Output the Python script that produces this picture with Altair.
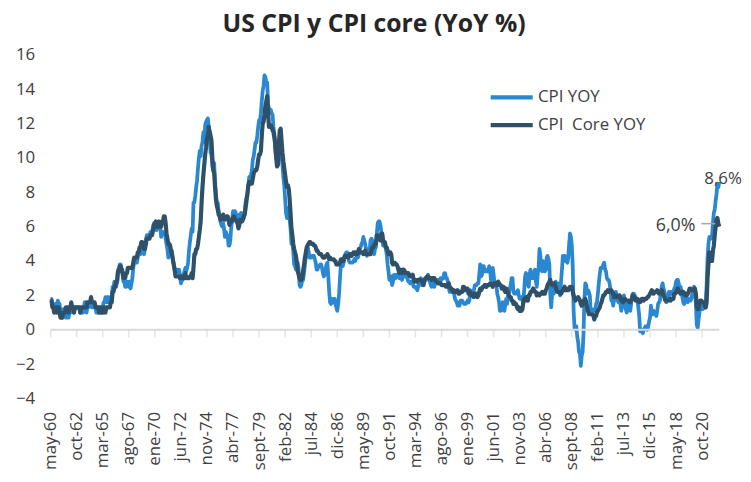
import altair as alt
import pandas as pd

# CPI YoY (%) monthly, May-1960 .. May-2022
cpi_yoy = [
    1.8, 1.8, 1.4, 1.4, 1.2, 1.5, 1.5, 1.4,                      # 1960 (May-Dec)
    1.7, 1.5, 1.5, 0.9, 0.9, 0.7, 1.2, 0.9, 1.2, 0.7, 0.7, 0.7,  # 1961
    0.7, 1.0, 1.0, 1.3, 1.3, 1.3, 1.0, 1.3, 1.3, 1.3, 1.3, 1.3,  # 1962
    1.3, 1.0, 1.0, 1.0, 1.0, 1.3, 1.6, 1.6, 1.0, 1.3, 1.3, 1.6,  # 1963
    1.6, 1.6, 1.3, 1.3, 1.3, 1.3, 1.3, 1.0, 1.3, 1.0, 1.3, 1.0,  # 1964
    1.0, 1.0, 1.3, 1.6, 1.6, 1.9, 1.6, 1.9, 1.6, 1.9, 1.6, 1.9,  # 1965
    1.9, 2.5, 2.5, 2.8, 2.8, 2.5, 2.8, 3.5, 3.5, 3.8, 3.8, 3.5,  # 1966
    3.5, 2.8, 2.8, 2.5, 2.5, 2.8, 2.8, 2.5, 2.8, 2.4, 2.7, 3.0,  # 1967
    3.6, 4.0, 4.0, 3.9, 3.9, 4.2, 4.5, 4.4, 4.4, 4.7, 4.8, 4.7,  # 1968
    4.4, 4.7, 5.2, 5.5, 5.5, 5.5, 5.4, 5.7, 5.7, 5.7, 6.0, 6.2,  # 1969
    6.2, 6.1, 5.8, 6.1, 6.1, 6.0, 6.0, 5.4, 5.7, 5.7, 5.6, 5.6,  # 1970
    5.3, 5.0, 4.7, 4.2, 4.4, 4.6, 4.4, 4.6, 4.1, 3.8, 3.5, 3.3,  # 1971
    3.3, 3.5, 3.5, 3.5, 3.2, 2.7, 2.9, 2.9, 3.2, 3.4, 3.6, 3.4,  # 1972
    3.6, 3.9, 4.6, 5.1, 5.5, 5.9, 5.7, 7.4, 7.4, 7.8, 8.3, 8.7,  # 1973
    9.4, 10.0, 10.4, 10.1, 10.7, 10.9, 11.5, 10.9, 11.9, 12.1, 12.2, 12.3,  # 1974
    11.8, 11.2, 10.3, 10.2, 9.5, 9.3, 9.7, 8.6, 7.9, 7.4, 7.4, 6.9,  # 1975
    6.7, 6.3, 6.1, 6.0, 6.2, 5.9, 5.4, 5.7, 5.5, 5.5, 4.9, 4.9,  # 1976
    5.2, 6.0, 6.4, 6.9, 6.7, 6.9, 6.8, 6.6, 6.6, 6.4, 6.7, 6.7,  # 1977
    6.8, 6.4, 6.6, 6.5, 6.9, 7.4, 7.7, 7.9, 8.3, 8.9, 8.9, 9.0,  # 1978
    9.3, 9.9, 10.1, 10.5, 10.9, 10.9, 11.3, 11.8, 12.2, 12.1, 12.6, 13.3,  # 1979
    13.9, 14.2, 14.8, 14.7, 14.4, 14.4, 13.1, 12.9, 12.6, 12.8, 12.6, 12.5,  # 1980
    11.8, 11.4, 10.5, 10.0, 9.8, 9.6, 10.8, 10.8, 11.0, 10.1, 9.6, 8.9,  # 1981
    8.4, 7.6, 6.8, 6.5, 6.7, 7.1, 6.4, 5.9, 5.0, 5.1, 4.6, 3.8,  # 1982
    3.7, 3.5, 3.6, 3.9, 3.5, 2.6, 2.5, 2.6, 2.9, 2.9, 3.3, 3.8,  # 1983
    4.2, 4.6, 4.8, 4.6, 4.2, 4.2, 4.2, 4.3, 4.3, 4.3, 4.1, 3.9,  # 1984
    3.5, 3.5, 3.7, 3.7, 3.8, 3.8, 3.6, 3.3, 3.1, 3.2, 3.5, 3.8,  # 1985
    3.9, 3.1, 2.2, 1.6, 1.5, 1.8, 1.6, 1.6, 1.8, 1.5, 1.3, 1.1,  # 1986
    1.5, 2.1, 3.0, 3.8, 3.9, 3.7, 3.9, 4.3, 4.4, 4.5, 4.5, 4.4,  # 1987
    4.0, 3.9, 3.9, 3.9, 3.9, 4.0, 4.1, 4.0, 4.2, 4.2, 4.2, 4.4,  # 1988
    4.7, 4.8, 5.0, 5.1, 5.4, 5.2, 5.0, 4.7, 4.3, 4.5, 4.7, 4.6,  # 1989
    5.2, 5.3, 5.2, 4.7, 4.4, 4.7, 4.8, 5.6, 6.2, 6.3, 6.3, 6.1,  # 1990
    5.7, 5.3, 4.9, 4.9, 5.0, 4.7, 4.4, 3.8, 3.4, 2.9, 3.0, 3.1,  # 1991
    2.6, 2.8, 3.2, 3.2, 3.0, 3.1, 3.2, 3.1, 3.0, 3.2, 3.0, 2.9,  # 1992
    3.3, 3.2, 3.1, 3.2, 3.2, 3.0, 2.8, 2.8, 2.7, 2.8, 2.7, 2.7,  # 1993
    2.5, 2.5, 2.5, 2.4, 2.3, 2.5, 2.8, 2.9, 3.0, 2.6, 2.7, 2.7,  # 1994
    2.8, 2.9, 2.9, 3.1, 3.2, 3.0, 2.8, 2.6, 2.5, 2.8, 2.6, 2.5,  # 1995
    2.7, 2.7, 2.8, 2.9, 2.9, 2.8, 3.0, 2.9, 3.0, 3.0, 3.3, 3.3,  # 1996
    3.0, 3.0, 2.8, 2.5, 2.2, 2.3, 2.2, 2.2, 2.2, 2.1, 1.8, 1.7,  # 1997
    1.6, 1.4, 1.4, 1.4, 1.7, 1.7, 1.7, 1.6, 1.5, 1.5, 1.5, 1.6,  # 1998
    1.7, 1.6, 1.7, 2.3, 2.1, 2.0, 2.1, 2.3, 2.6, 2.6, 2.6, 2.7,  # 1999
    2.7, 3.2, 3.8, 3.1, 3.2, 3.7, 3.7, 3.4, 3.5, 3.4, 3.4, 3.4,  # 2000
    3.7, 3.5, 2.9, 3.3, 3.6, 3.2, 2.7, 2.7, 2.6, 2.1, 1.9, 1.6,  # 2001
    1.1, 1.1, 1.5, 1.6, 1.2, 1.1, 1.5, 1.8, 1.5, 2.0, 2.2, 2.4,  # 2002
    2.6, 3.0, 3.0, 2.2, 2.1, 2.1, 2.1, 2.2, 2.3, 2.0, 1.8, 1.9,  # 2003
    1.9, 1.7, 1.7, 2.3, 3.1, 3.3, 3.0, 2.7, 2.5, 3.2, 3.5, 3.3,  # 2004
    3.0, 3.0, 3.1, 3.5, 2.8, 2.5, 3.2, 3.6, 4.7, 4.3, 3.5, 3.4,  # 2005
    4.0, 3.6, 3.4, 3.5, 4.2, 4.3, 4.1, 3.8, 2.1, 1.3, 2.0, 2.5,  # 2006
    2.1, 2.4, 2.8, 2.6, 2.7, 2.7, 2.4, 2.0, 2.8, 3.5, 4.3, 4.1,  # 2007
    4.3, 4.0, 4.0, 3.9, 4.2, 5.0, 5.6, 5.4, 4.9, 3.7, 1.1, 0.1,  # 2008
    0.0, 0.2, -0.4, -0.7, -1.3, -1.4, -2.1, -1.5, -1.3, -0.2, 1.8, 2.7,  # 2009
    2.6, 2.1, 2.3, 2.2, 2.0, 1.1, 1.2, 1.1, 1.1, 1.2, 1.1, 1.5,  # 2010
    1.6, 2.1, 2.7, 3.2, 3.6, 3.6, 3.6, 3.8, 3.9, 3.5, 3.4, 3.0,  # 2011
    2.9, 2.9, 2.7, 2.3, 1.7, 1.7, 1.4, 1.7, 2.0, 2.2, 1.8, 1.7,  # 2012
    1.6, 2.0, 1.5, 1.1, 1.4, 1.8, 2.0, 1.5, 1.2, 1.0, 1.2, 1.5,  # 2013
    1.6, 1.1, 1.5, 2.0, 2.1, 2.1, 2.0, 1.7, 1.7, 1.7, 1.3, 0.8,  # 2014
    -0.1, 0.0, -0.1, -0.2, 0.0, 0.1, 0.2, 0.2, 0.0, 0.2, 0.5, 0.7,  # 2015
    1.4, 1.0, 0.9, 1.1, 1.0, 1.0, 0.8, 1.1, 1.5, 1.6, 1.7, 2.1,  # 2016
    2.5, 2.7, 2.4, 2.2, 1.9, 1.6, 1.7, 1.9, 2.2, 2.0, 2.2, 2.1,  # 2017
    2.1, 2.2, 2.4, 2.5, 2.8, 2.9, 2.9, 2.7, 2.3, 2.5, 2.2, 1.9,  # 2018
    1.6, 1.5, 1.9, 2.0, 1.8, 1.6, 1.8, 1.7, 1.7, 1.8, 2.1, 2.3,  # 2019
    2.5, 2.3, 1.5, 0.3, 0.1, 0.6, 1.0, 1.3, 1.4, 1.2, 1.2, 1.4,  # 2020
    1.4, 1.7, 2.6, 4.2, 5.0, 5.4, 5.4, 5.3, 5.4, 6.2, 6.8, 7.0,  # 2021
    7.5, 7.9, 8.5, 8.3, 8.6,                                      # 2022 (Jan-May)
]

# CPI core YoY (%) monthly, May-1960 .. May-2022
core_yoy = [
    1.7, 1.7, 1.3, 1.3, 1.0, 1.3, 1.3, 1.0,                      # 1960 (May-Dec)
    1.3, 1.3, 1.0, 0.7, 0.7, 0.7, 1.0, 1.0, 1.0, 1.3, 1.3, 1.3,  # 1961
    1.0, 1.3, 1.3, 1.6, 1.3, 1.3, 1.0, 1.3, 1.3, 1.3, 1.3, 1.3,  # 1962
    1.3, 1.0, 1.3, 1.3, 1.3, 1.3, 1.3, 1.3, 1.3, 1.6, 1.6, 1.6,  # 1963
    1.6, 1.9, 1.6, 1.6, 1.6, 1.6, 1.3, 1.3, 1.3, 1.3, 1.0, 1.3,  # 1964
    1.3, 1.0, 1.0, 1.3, 1.3, 1.0, 1.3, 1.3, 1.3, 1.3, 1.3, 1.6,  # 1965
    1.6, 2.2, 2.2, 2.5, 2.5, 2.8, 2.8, 3.4, 3.4, 3.7, 3.7, 3.5,  # 1966
    3.3, 3.0, 3.0, 3.0, 3.3, 3.3, 3.6, 3.6, 3.6, 3.6, 3.6, 3.6,  # 1967
    3.9, 4.2, 4.2, 4.2, 4.2, 4.5, 4.5, 4.8, 4.8, 5.1, 5.1, 5.0,  # 1968
    4.7, 4.7, 5.0, 5.3, 5.3, 5.3, 5.3, 5.5, 5.5, 5.5, 5.8, 6.1,  # 1969
    6.1, 6.3, 6.0, 6.0, 6.3, 6.3, 6.0, 6.0, 6.3, 6.3, 6.6, 6.6,  # 1970
    6.2, 5.6, 5.3, 5.0, 5.0, 4.9, 4.6, 4.4, 4.1, 3.8, 3.5, 3.1,  # 1971
    3.1, 3.1, 3.1, 3.1, 3.0, 3.1, 3.1, 3.0, 3.0, 3.0, 3.3, 3.0,  # 1972
    3.0, 3.0, 3.0, 3.1, 3.1, 3.3, 3.0, 3.6, 4.4, 4.4, 4.7, 4.7,  # 1973
    5.0, 5.4, 5.8, 6.3, 7.4, 8.3, 9.0, 9.6, 10.2, 10.6, 11.1, 11.3,  # 1974
    11.8, 11.5, 11.3, 11.0, 10.0, 9.3, 9.1, 8.3, 7.6, 7.2, 7.0, 6.7,  # 1975
    6.6, 6.4, 6.6, 6.5, 6.7, 6.4, 6.4, 6.5, 6.6, 6.6, 6.4, 6.1,  # 1976
    6.3, 6.4, 6.3, 6.5, 6.6, 6.4, 6.4, 6.3, 6.2, 5.9, 6.1, 6.4,  # 1977
    6.4, 6.3, 6.4, 6.6, 6.7, 7.1, 7.5, 7.9, 8.4, 8.6, 8.5, 8.5,  # 1978
    8.5, 8.8, 9.1, 9.2, 9.3, 9.3, 9.5, 9.9, 10.2, 10.2, 10.4, 11.3,  # 1979
    12.0, 12.1, 12.5, 13.0, 13.3, 13.6, 12.6, 11.8, 11.8, 11.9, 11.8, 11.6,  # 1980
    11.5, 11.2, 10.8, 10.0, 9.5, 9.6, 10.8, 11.6, 11.7, 11.0, 10.3, 9.8,  # 1981
    9.4, 9.0, 8.6, 8.3, 8.4, 8.2, 7.6, 6.8, 5.9, 5.5, 5.0, 4.7,  # 1982
    4.5, 4.3, 3.9, 3.4, 3.2, 3.0, 2.9, 2.9, 3.0, 3.4, 3.8, 4.2,  # 1983
    4.5, 4.8, 4.9, 5.0, 5.1, 5.1, 5.0, 5.0, 5.0, 4.9, 4.9, 4.8,  # 1984
    4.6, 4.6, 4.5, 4.4, 4.4, 4.4, 4.3, 4.2, 4.2, 4.2, 4.3, 4.3,  # 1985
    4.4, 4.3, 4.1, 4.2, 4.1, 4.1, 4.1, 4.1, 4.0, 4.0, 3.8, 3.8,  # 1986
    3.8, 3.8, 3.9, 4.1, 4.0, 4.1, 4.0, 4.2, 4.3, 4.3, 4.3, 4.2,  # 1987
    4.3, 4.4, 4.4, 4.3, 4.4, 4.5, 4.5, 4.4, 4.5, 4.4, 4.5, 4.7,  # 1988
    4.5, 4.5, 4.5, 4.5, 4.4, 4.5, 4.6, 4.4, 4.4, 4.4, 4.4, 4.4,  # 1989
    4.4, 4.6, 4.8, 4.8, 4.9, 5.0, 5.0, 5.5, 5.5, 5.3, 5.3, 5.2,  # 1990
    5.6, 5.6, 5.2, 5.1, 5.1, 4.8, 4.8, 4.6, 4.4, 4.4, 4.5, 4.4,  # 1991
    3.9, 3.8, 3.9, 3.9, 3.8, 3.8, 3.7, 3.5, 3.3, 3.5, 3.4, 3.3,  # 1992
    3.5, 3.5, 3.4, 3.3, 3.3, 3.3, 3.3, 3.2, 3.1, 3.1, 3.1, 3.2,  # 1993
    2.9, 2.8, 2.9, 2.8, 2.8, 2.9, 2.9, 2.9, 2.9, 2.8, 2.8, 2.6,  # 1994
    2.9, 3.0, 3.0, 3.1, 3.1, 3.0, 3.0, 3.0, 2.9, 3.0, 3.0, 3.0,  # 1995
    2.9, 2.8, 2.8, 2.7, 2.7, 2.7, 2.7, 2.6, 2.6, 2.6, 2.6, 2.6,  # 1996
    2.5, 2.5, 2.5, 2.7, 2.5, 2.4, 2.4, 2.3, 2.2, 2.3, 2.2, 2.2,  # 1997
    2.2, 2.3, 2.1, 2.1, 2.2, 2.2, 2.2, 2.5, 2.5, 2.3, 2.3, 2.4,  # 1998
    2.4, 2.1, 2.1, 2.2, 2.0, 2.1, 2.1, 1.9, 2.0, 2.1, 2.1, 1.9,  # 1999
    2.0, 2.2, 2.4, 2.3, 2.4, 2.5, 2.5, 2.6, 2.6, 2.5, 2.6, 2.6,  # 2000
    2.6, 2.7, 2.7, 2.6, 2.5, 2.7, 2.7, 2.7, 2.6, 2.6, 2.8, 2.7,  # 2001
    2.6, 2.6, 2.4, 2.5, 2.5, 2.3, 2.2, 2.4, 2.2, 2.2, 2.0, 1.9,  # 2002
    1.9, 1.7, 1.7, 1.5, 1.6, 1.5, 1.5, 1.3, 1.2, 1.3, 1.1, 1.1,  # 2003
    1.1, 1.2, 1.6, 1.8, 1.7, 1.9, 1.8, 1.7, 2.0, 2.0, 2.2, 2.2,  # 2004
    2.3, 2.4, 2.3, 2.2, 2.2, 2.0, 2.1, 2.1, 2.0, 2.1, 2.1, 2.2,  # 2005
    2.1, 2.1, 2.1, 2.3, 2.4, 2.6, 2.7, 2.8, 2.9, 2.7, 2.6, 2.6,  # 2006
    2.7, 2.7, 2.5, 2.3, 2.2, 2.2, 2.2, 2.1, 2.1, 2.2, 2.3, 2.4,  # 2007
    2.5, 2.3, 2.4, 2.3, 2.3, 2.4, 2.5, 2.5, 2.5, 2.2, 2.0, 1.8,  # 2008
    1.7, 1.8, 1.8, 1.9, 1.8, 1.7, 1.5, 1.4, 1.5, 1.7, 1.7, 1.8,  # 2009
    1.6, 1.3, 1.1, 0.9, 0.9, 0.9, 0.9, 0.9, 0.8, 0.6, 0.8, 0.8,  # 2010
    1.0, 1.1, 1.2, 1.3, 1.5, 1.6, 1.8, 2.0, 2.0, 2.1, 2.2, 2.2,  # 2011
    2.3, 2.2, 2.3, 2.3, 2.3, 2.2, 2.1, 1.9, 2.0, 2.0, 1.9, 1.9,  # 2012
    1.9, 2.0, 1.9, 1.7, 1.7, 1.6, 1.7, 1.8, 1.7, 1.7, 1.7, 1.7,  # 2013
    1.6, 1.6, 1.7, 1.8, 2.0, 1.9, 1.9, 1.7, 1.7, 1.8, 1.7, 1.6,  # 2014
    1.6, 1.7, 1.8, 1.8, 1.7, 1.8, 1.8, 1.8, 1.9, 1.9, 2.0, 2.1,  # 2015
    2.2, 2.3, 2.2, 2.1, 2.2, 2.2, 2.2, 2.3, 2.2, 2.1, 2.1, 2.2,  # 2016
    2.3, 2.2, 2.0, 1.9, 1.7, 1.7, 1.7, 1.7, 1.7, 1.8, 1.7, 1.8,  # 2017
    1.8, 1.8, 2.1, 2.1, 2.2, 2.3, 2.4, 2.2, 2.2, 2.1, 2.2, 2.2,  # 2018
    2.2, 2.1, 2.0, 2.1, 2.0, 2.1, 2.2, 2.4, 2.4, 2.3, 2.3, 2.3,  # 2019
    2.3, 2.4, 2.1, 1.4, 1.2, 1.2, 1.6, 1.7, 1.7, 1.6, 1.6, 1.6,  # 2020
    1.4, 1.3, 1.6, 3.0, 3.8, 4.5, 4.3, 4.0, 4.0, 4.6, 4.9, 5.5,  # 2021
    6.0, 6.4, 6.5, 6.2, 6.0,                                      # 2022 (Jan-May)
]

tick_labels = ["may-60", "oct-62", "mar-65", "ago-67", "ene-70", "jun-72", "nov-74",
               "abr-77", "sept-79", "feb-82", "jul-84", "dic-86", "may-89", "oct-91",
               "mar-94", "ago-96", "ene-99", "jun-01", "nov-03", "abr-06", "sept-08",
               "feb-11", "jul-13", "dic-15", "may-18", "oct-20"]
tick_step = 29  # months between labelled categories
y_ticks = [-4, -2, 0, 2, 4, 6, 8, 10, 12, 14, 16]

series_names = ["CPI YOY", "CPI\u00a0 Core YOY"]
series_colors = ["#2A88D2", "#2E5169"]
end_labels = ["8,6%", "6,0%"]

n = len(cpi_yoy)
df = pd.DataFrame({
    "t": list(range(n)) * 2,
    "serie": [series_names[0]] * n + [series_names[1]] * len(core_yoy),
    "valor": cpi_yoy + core_yoy,
})
tick_pos = [i * tick_step for i in range(len(tick_labels))]
ticks_df = pd.DataFrame({"t": tick_pos, "valor": 0})
zero_df = pd.DataFrame({"valor": [0]})
end_df = pd.DataFrame({"t": [n - 1, n - 1], "valor": [cpi_yoy[-1], core_yoy[-1]],
                       "lab": end_labels})

label_array = "[" + ",".join(f"'{l}'" for l in tick_labels) + "]"

FONT = "Open Sans"
TXT = "#404040"

x_scale = alt.Scale(domain=[0, n - 1], nice=False, zero=False)
y_scale = alt.Scale(domain=[-4, 16], nice=False)

x_axis = alt.Axis(values=tick_pos,
                  labelExpr=label_array + "[round(datum.value/" + str(tick_step) + ")]",
                  labelAngle=-90, labelFontSize=17, labelColor=TXT, labelFont=FONT,
                  labelPadding=13, ticks=False, domain=False, grid=False,
                  labelOverlap=False, labelBound=False, labelFlush=False)
y_axis = alt.Axis(values=y_ticks, labelFontSize=17, labelColor=TXT,
                  labelFont=FONT, labelPadding=16, ticks=False, domain=False,
                  grid=False, labelOverlap=False)

x_enc = alt.X("t:Q", scale=x_scale, title=None, axis=x_axis)
y_enc = alt.Y("valor:Q", scale=y_scale, title=None, axis=y_axis)

color_enc = alt.Color("serie:N",
                      scale=alt.Scale(domain=series_names, range=series_colors),
                      legend=alt.Legend(title=None, orient="none", legendX=442, legendY=34,
                                        symbolType="stroke", symbolSize=1800,
                                        symbolStrokeWidth=4.5, labelFontSize=17,
                                        labelColor=TXT, labelFont=FONT, labelOffset=3,
                                        clipHeight=18, rowPadding=10))

zero_line = alt.Chart(zero_df).mark_rule(color="#D9D9D9", strokeWidth=2).encode(y=y_enc)
tick_marks = alt.Chart(ticks_df).mark_tick(color="#D9D9D9", orient="vertical", size=7,
                                           thickness=1.5, yOffset=4).encode(x=x_enc, y=y_enc)

base = alt.Chart(df)
line_cpi = base.transform_filter(alt.datum.serie == series_names[0]).mark_line(
    strokeWidth=3.8, strokeJoin="round").encode(x=x_enc, y=y_enc, color=color_enc)
line_core = base.transform_filter(alt.datum.serie == series_names[1]).mark_line(
    strokeWidth=4.2, strokeJoin="round").encode(x=x_enc, y=y_enc, color=color_enc)

end_base = alt.Chart(end_df)
lab_cpi = end_base.transform_filter(alt.datum.lab == end_labels[0]).mark_text(
    align="left", baseline="alphabetic", dx=-15, dy=2, fontSize=17, font=FONT, color=TXT).encode(
    x=x_enc, y=y_enc, text="lab:N")
lab_core = end_base.transform_filter(alt.datum.lab == end_labels[1]).mark_text(
    align="right", baseline="middle", dx=-24, dy=-1, fontSize=18, font=FONT, color=TXT).encode(
    x=x_enc, y=y_enc, text="lab:N")
leader = end_base.transform_filter(alt.datum.lab == end_labels[1]).mark_rule(
    color="#A6A6A6", strokeWidth=1.5, xOffset=-18, x2Offset=-4, yOffset=-3, y2Offset=-3).encode(
    x=x_enc, x2="t:Q", y=y_enc, y2="valor:Q")

chart = alt.layer(line_cpi, zero_line, tick_marks, line_core, leader, lab_cpi, lab_core).properties(
    width=675, height=347,
    title=alt.TitleParams("US CPI y CPI core (YoY %)", fontSize=25, font=FONT, fontWeight="bold",
                          color="#262626", anchor="middle", offset=9, dx=-11),
    autosize=alt.AutoSizeParams(type="none"),
    padding={"left": 43, "top": 45, "right": 24, "bottom": 74},
).configure(background="white", view=alt.ViewConfig(stroke=None),
            axis=alt.AxisConfig(labelOverlap=False))

chart.save("out.html", embed_options={"renderer": "svg", "actions": False})
